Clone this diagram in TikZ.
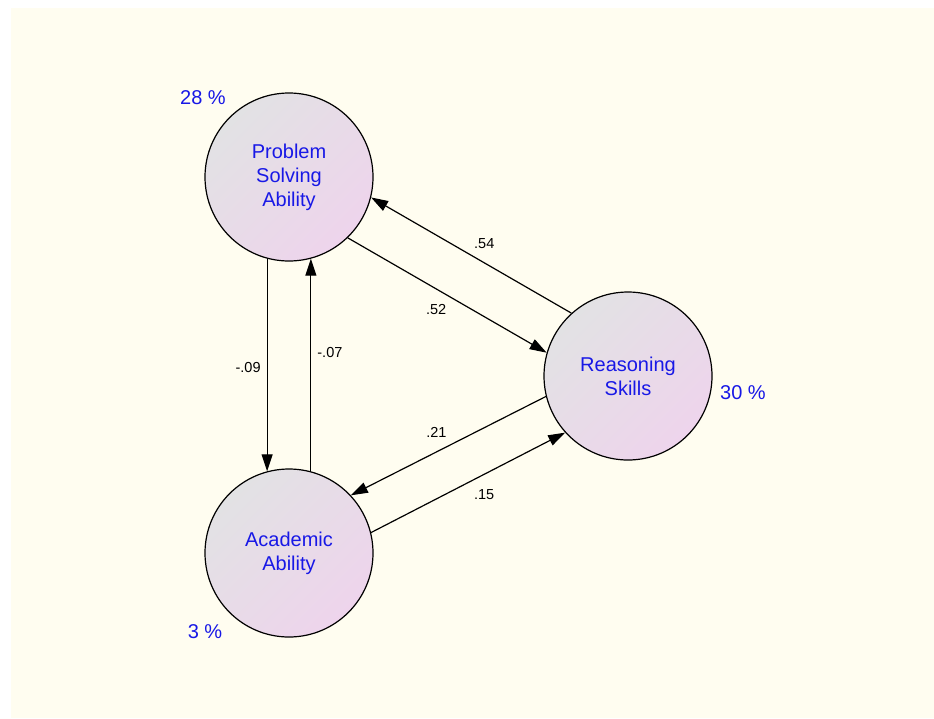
\documentclass[tikz,border=0pt]{standalone}
\usepackage{fontspec}
\setmainfont{Liberation Sans}
\usetikzlibrary{arrows.meta}
\definecolor{cream}{RGB}{255,253,240}
\definecolor{varblue}{RGB}{24,24,230}
\definecolor{latgray}{RGB}{226,226,228}
\definecolor{latpink}{RGB}{238,212,236}

\begin{document}
\begin{tikzpicture}[x=1pt,y=1pt,>={Triangle[length=17pt,width=11pt]},
    latent/.style={circle,draw=black,line width=1.2pt,minimum size=168pt,inner sep=0pt,align=center,
      font=\fontsize{20}{24}\selectfont,text=varblue,top color=latgray,bottom color=latpink,shading angle=45},
    effect/.style={->,line width=1.2pt},
    coef/.style={font=\fontsize{14.5}{17}\selectfont,inner sep=1pt,midway},
    rsq/.style={font=\fontsize{20}{24}\selectfont,text=varblue}]
  \useasboundingbox (0,0) rectangle (934,-718);
  \fill[cream] (11,-8) rectangle (934,-718);

  \node[latent]  (psa) at (289,-177)  {Problem\\Solving\\Ability};
  \node[latent]  (aa)  at (289,-553)  {Academic\\Ability};
  \node[latent]  (rs)  at (628,-376)  {Reasoning\\Skills};

  \node[rsq]     (psar) at (203,-98)  {28 \%};
  \node[rsq]     (aar)  at (205,-632) {3 \%};
  \node[rsq]     (rsr)  at (743,-393) {30 \%};

  \path (psa.255) edge [effect] node[coef,shift={(-19,-3)}]   {-.09} (aa.105)
        (aa.75)   edge [effect] node[coef,shift={(19,12)}]    {-.07} (psa.285)
        (rs.132)  edge [effect] node[coef,shift={(13,12)}]    {.54}  (psa.346)
        (psa.314) edge [effect] node[coef,shift={(-11,-14)}]  {.52}  (rs.164)
        (rs.194)  edge [effect] node[coef,shift={(-12,13)}]   {.21}  (aa.43)
        (aa.14)   edge [effect] node[coef,shift={(16,-12)}]   {.15}  (rs.222);
\end{tikzpicture}
\end{document}
